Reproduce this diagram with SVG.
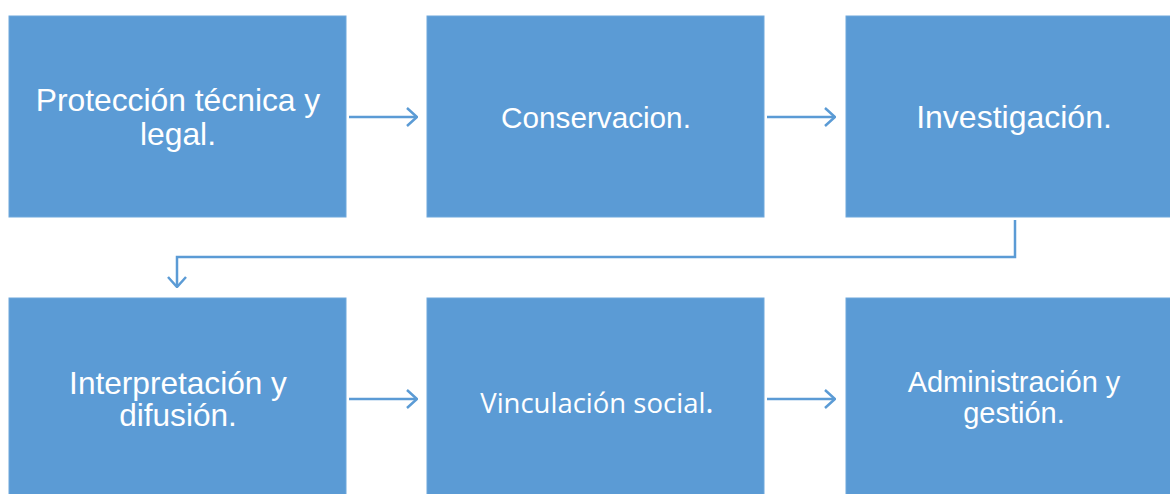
<svg xmlns="http://www.w3.org/2000/svg" width="1170" height="494" viewBox="0 0 1170 494">
<style>
.box{fill:#5B9BD5;stroke:#6FA8DC;stroke-width:1}
.t{font-family:"Liberation Sans",Arial,sans-serif;fill:#fff;text-anchor:middle}
.c{fill:none;stroke:#5B9BD5;stroke-width:2.5}
</style>
<defs>
<marker id="ah" viewBox="0 0 12 20" refX="11" refY="10" markerWidth="12" markerHeight="20" markerUnits="userSpaceOnUse" orient="auto">
<path d="M1,1 L11,10 L1,19" fill="none" stroke="#5B9BD5" stroke-width="2.5"/>
</marker>
</defs>
<rect width="1170" height="494" fill="#fff"/>
<g id="n1"><rect class="box" x="9" y="16" width="337" height="201"/>
<text class="t" font-size="31.8" x="178" y="111">Protección técnica y</text>
<text class="t" font-size="31.8" x="178" y="145">legal.</text></g>
<g id="n2"><rect class="box" x="427" y="16" width="337" height="201"/>
<text class="t" font-size="29.7" x="596" y="128">Conservacion.</text></g>
<g id="n3"><rect class="box" x="846" y="16" width="337" height="201"/>
<text class="t" font-size="32" x="1014" y="128">Investigación.</text></g>
<g id="n4"><rect class="box" x="9" y="298" width="337" height="201"/>
<text class="t" font-size="31.6" x="178" y="394">Interpretación y</text>
<text class="t" font-size="31.6" x="178" y="426">difusión.</text></g>
<g id="n5"><rect class="box" x="427" y="298" width="337" height="201"/>
<text font-family="'Open Sans','Noto Sans',sans-serif" fill="#fff" text-anchor="middle" font-size="27.5" x="597" y="413">Vinculación social<tspan font-size="32">.</tspan></text></g>
<g id="n6"><rect class="box" x="846" y="298" width="337" height="201"/>
<text class="t" font-size="29" x="1014" y="392">Administración y</text>
<text class="t" font-size="29" x="1014" y="423">gestión.</text></g>
<g id="connectors">
<path class="c" d="M349,117 H417" marker-end="url(#ah)"/>
<path class="c" d="M767,117 H835" marker-end="url(#ah)"/>
<path class="c" d="M1015,220 V257 H177 V287" marker-end="url(#ah)"/>
<path class="c" d="M349,399 H417" marker-end="url(#ah)"/>
<path class="c" d="M767,399 H835" marker-end="url(#ah)"/>
</g>
</svg>
